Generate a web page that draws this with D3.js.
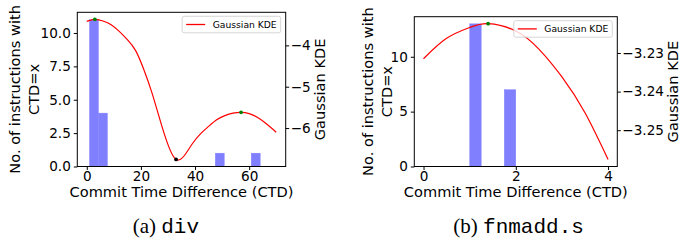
<!DOCTYPE html>
<html>
<head>
<meta charset="utf-8">
<script src="https://cdn.jsdelivr.net/npm/d3@7"></script>
<style>
  body { margin: 0; background: #fff; }
  text { font-family: "DejaVu Sans", sans-serif; }
</style>
</head>
<body>
<script>
// ---- panel (a): div ----
var divBinStart = [1, 4.32, 47.48, 60.76];
var divBinCount = [11, 4, 1, 1];
var divBinWidth = 3.32;
var divKdeX = [0, 3, 6, 9, 12, 15, 18, 21, 24, 27, 30, 33, 36, 39, 42, 45, 48, 51, 54, 57, 60, 63, 66, 70];
var divKdeY = [-3.42, -3.37, -3.41, -3.50, -3.66, -3.86, -4.12, -4.57, -5.13, -5.79, -6.40, -6.76,
               -6.67, -6.38, -6.14, -5.96, -5.80, -5.70, -5.64, -5.62, -5.65, -5.74, -5.88, -6.10];
var divMaxX = [3, 57];
var divMinX = [33];
var divXTicks = [0, 20, 40, 60];
var divYTicks = [0, 2.5, 5, 7.5, 10];
var divKdeTicks = [-4, -5, -6];

// ---- panel (b): fnmadd.s ----
var fnBinStart = [1, 1.75];
var fnBinCount = [13, 7];
var fnBinWidth = 0.25;
var fnKdeX = [0, 0.5, 1, 1.4, 2, 2.5, 3, 3.5, 4];
var fnKdeY = [-3.2315, -3.2262, -3.2234, -3.2224, -3.2243, -3.2290, -3.2362, -3.2455, -3.2576];
var fnMaxX = [1.4];
var fnMinX = [];
var fnXTicks = [0, 2, 4];
var fnYTicks = [0, 5, 10];
var fnKdeTicks = [-3.23, -3.24, -3.25];

var svg = d3.select('body').append('svg')
    .attr('width', 680)
    .attr('height', 241);

/*
 * Draws one histogram + KDE panel.
 */
function drawPanel(p) {
    var g = svg.append('g');

    var x = d3.scaleLinear().domain(p.xDomain).range([p.left, p.right]);
    var y = d3.scaleLinear().domain([0, p.yMax]).range([p.bottom, p.top]);
    var yk = d3.scaleLinear().domain(p.kdeDomain).range([p.bottom, p.top]);

    // bars
    g.selectAll('.bar')
        .data(p.binStart)
        .enter().append('rect')
        .attr('x', function (d) { return x(d); })
        .attr('width', function (d) { return x(d + p.binWidth) - x(d); })
        .attr('y', function (d, i) { return y(p.binCount[i]); })
        .attr('height', function (d, i) { return y(0) - y(p.binCount[i]); })
        .attr('fill', '#8080ff')
        .attr('stroke', '#8080ff')
        .attr('stroke-width', 0.4);

    // kde curve
    var pts = p.kdeX.map(function (d, i) { return [d, p.kdeY[i]]; });
    var line = d3.line()
        .x(function (d) { return x(d[0]); })
        .y(function (d) { return yk(d[1]); })
        .curve(d3.curveNatural);
    g.append('path')
        .datum(pts)
        .attr('d', line)
        .attr('fill', 'none')
        .attr('stroke', 'red')
        .attr('stroke-width', 1.2);

    var kdeAt = function (v) {
        var i = p.kdeX.indexOf(v);
        return p.kdeY[i];
    };
    g.selectAll('.max')
        .data(p.maxX)
        .enter().append('circle')
        .attr('cx', function (d) { return x(d); })
        .attr('cy', function (d) { return yk(kdeAt(d)); })
        .attr('r', 1.9)
        .attr('fill', 'green');
    g.selectAll('.min')
        .data(p.minX)
        .enter().append('circle')
        .attr('cx', function (d) { return x(d); })
        .attr('cy', function (d) { return yk(kdeAt(d)); })
        .attr('r', 1.9)
        .attr('fill', 'black');

    // frame
    g.append('rect')
        .attr('x', p.left).attr('y', p.top)
        .attr('width', p.right - p.left).attr('height', p.bottom - p.top)
        .attr('fill', 'none').attr('stroke', 'black').attr('stroke-width', 1);

    // axes
    var ax = g.append('g').attr('transform', 'translate(0,' + p.bottom + ')')
        .call(d3.axisBottom(x).tickValues(p.xTicks).tickSize(3.5).tickPadding(1.5).tickFormat(d3.format('d')));
    var ay = g.append('g').attr('transform', 'translate(' + p.left + ',0)')
        .call(d3.axisLeft(y).tickValues(p.yTicks).tickSize(3.5).tickPadding(3).tickFormat(d3.format(p.yFmt)));
    var ak = g.append('g').attr('transform', 'translate(' + p.right + ',0)')
        .call(d3.axisRight(yk).tickValues(p.kdeTicks).tickSize(3.5).tickPadding(1.5).tickFormat(d3.format(p.kdeFmt)));
    [ax, ay, ak].forEach(function (a) {
        a.select('.domain').remove();
        a.selectAll('line').attr('stroke', 'black').attr('stroke-width', 1);
        a.selectAll('text').attr('fill', 'black')
            .style('font-family', '"DejaVu Sans", sans-serif')
            .style('font-size', '13.6px');
    });

    // axis labels
    g.append('text')
        .attr('x', (p.left + p.right) / 2).attr('y', 196.5)
        .attr('text-anchor', 'middle')
        .style('font-size', '14.6px')
        .text('Commit Time Difference (CTD)');

    var cy = (p.top + p.bottom) / 2;
    var yl = g.append('text')
        .attr('transform', 'translate(' + p.yLabelX + ',' + cy + ') rotate(-90)')
        .attr('text-anchor', 'middle')
        .style('font-size', '14.6px');
    yl.append('tspan').attr('x', 0).attr('y', 0).text('No. of instructions with');
    yl.append('tspan').attr('x', 0).attr('y', 18.5).text('CTD=x');

    g.append('text')
        .attr('transform', 'translate(' + p.kdeLabelX + ',' + cy + ') rotate(-90)')
        .attr('text-anchor', 'middle')
        .style('font-size', '14.6px')
        .text('Gaussian KDE');

    // legend
    var lg = g.append('g').attr('transform', 'translate(' + (p.right - 103.5) + ',' + (p.top + 4) + ')');
    lg.append('rect')
        .attr('width', 98.5).attr('height', 16.5).attr('rx', 2)
        .attr('fill', 'white').attr('fill-opacity', 0.8)
        .attr('stroke', '#cccccc').attr('stroke-width', 0.8);
    lg.append('line')
        .attr('x1', 4).attr('x2', 23).attr('y1', 8.2).attr('y2', 8.2)
        .attr('stroke', 'red').attr('stroke-width', 1.3);
    lg.append('text')
        .attr('x', 30.5).attr('y', 11.5)
        .style('font-size', '9.2px')
        .text('Gaussian KDE');

    // caption
    var cap = g.append('text')
        .attr('x', p.capX).attr('y', 233)
        .style('font-size', '21px');
    cap.append('tspan').style('font-family', '"Liberation Serif", serif').text(p.capTag + ' ');
    cap.append('tspan').style('font-family', '"Liberation Mono", monospace').text(p.capName);
}

drawPanel({
    left: 77.3, right: 285.7, top: 12.3, bottom: 166.5,
    xDomain: [-3.5, 73.5], yMax: 11.55, kdeDomain: [-6.93, -3.20],
    binStart: divBinStart, binCount: divBinCount, binWidth: divBinWidth,
    kdeX: divKdeX, kdeY: divKdeY, maxX: divMaxX, minX: divMinX,
    xTicks: divXTicks, yTicks: divYTicks, kdeTicks: divKdeTicks,
    yFmt: '.1f', kdeFmt: 'd',
    yLabelX: 20, kdeLabelX: 325,
    capX: 132.7, capTag: '(a)', capName: 'div'
});

drawPanel({
    left: 414.3, right: 617.3, top: 16.7, bottom: 166.5,
    xDomain: [-0.2, 4.2], yMax: 13.65, kdeDomain: [-3.2594, -3.2206],
    binStart: fnBinStart, binCount: fnBinCount, binWidth: fnBinWidth,
    kdeX: fnKdeX, kdeY: fnKdeY, maxX: fnMaxX, minX: fnMinX,
    xTicks: fnXTicks, yTicks: fnYTicks, kdeTicks: fnKdeTicks,
    yFmt: 'd', kdeFmt: '.2f',
    yLabelX: 373, kdeLabelX: 678,
    capX: 453.3, capTag: '(b)', capName: 'fnmadd.s'
});
</script>
</body>
</html>
